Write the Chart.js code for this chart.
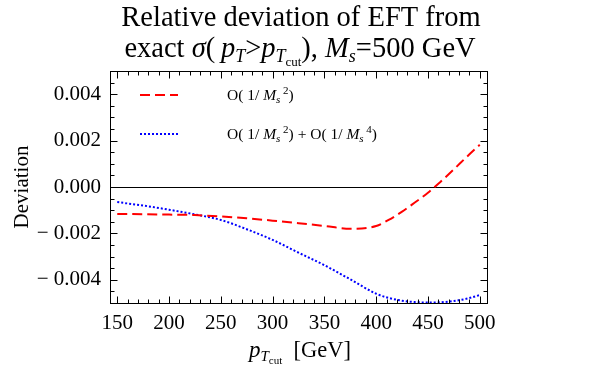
<!DOCTYPE html>
<html>
<head>
<meta charset="utf-8">
<script src="https://cdn.jsdelivr.net/npm/chart.js@4"></script>
<style>
  html, body { margin: 0; padding: 0; background: #ffffff; }
  #wrap { width: 600px; height: 375px; position: relative; }
</style>
</head>
<body>
<div id="wrap"><canvas id="c" width="600" height="375"></canvas></div>
<script>
// ---- data ----
const xValues = [150, 175, 200, 225, 250, 275, 300, 325, 350, 375, 400, 412, 425, 437, 450, 462, 475, 487, 500];
const order2  = [-0.00116, -0.00117, -0.00119, -0.00121, -0.00127, -0.00135, -0.00145, -0.00156, -0.00168, -0.00180, -0.00168, -0.00142, -0.00106, -0.00068, -0.00025, 0.00022, 0.00076, 0.00128, 0.00182];
const order24 = [-0.00065, -0.00080, -0.00098, -0.00118, -0.00142, -0.00182, -0.00228, -0.00283, -0.00337, -0.00398, -0.00460, -0.00478, -0.00490, -0.00496, -0.00498, -0.00497, -0.00491, -0.00482, -0.00466];
const xTicks = [150, 200, 250, 300, 350, 400, 450, 500];
const xTickLabels = ['150', '200', '250', '300', '350', '400', '450', '500'];
const yTicks = [-0.004, -0.002, 0, 0.002, 0.004];
const yTickLabels = ['\u2212 0.004', '\u2212 0.002', '0.000', '0.002', '0.004'];
const seriesNames = ['O(1/Ms^2)', 'O(1/Ms^2)+O(1/Ms^4)'];
const titleLine1 = 'Relative deviation of EFT from';
const yAxisTitle = 'Deviation';

const SERIF = '"Liberation Serif", "DejaVu Serif", serif';

function drawRuns(ctx, runs, x, y, align) {
  let total = 0;
  const widths = runs.map(r => {
    ctx.font = (r.i ? 'italic ' : '') + r.s + 'px ' + SERIF;
    const w = ctx.measureText(r.t).width;
    total += w;
    return w;
  });
  let cx = align === 'center' ? x - total / 2 : x;
  ctx.textBaseline = 'alphabetic';
  ctx.textAlign = 'left';
  runs.forEach((r, k) => {
    ctx.font = (r.i ? 'italic ' : '') + r.s + 'px ' + SERIF;
    ctx.fillText(r.t, cx, y + (r.dy || 0));
    cx += widths[k];
  });
}

const LS = 15.5, LSS = 11;
const legendRuns = [
  [{t: 'O( 1/ ', s: LS}, {t: 'M', s: LS, i: 1}, {t: 's', s: LSS, i: 1, dy: 3}, {t: ' 2', s: LSS, dy: -6}, {t: ')', s: LS}],
  [{t: 'O( 1/ ', s: LS}, {t: 'M', s: LS, i: 1}, {t: 's', s: LSS, i: 1, dy: 3}, {t: ' 2', s: LSS, dy: -6}, {t: ') + O( 1/ ', s: LS},
   {t: 'M', s: LS, i: 1}, {t: 's', s: LSS, i: 1, dy: 3}, {t: ' 4', s: LSS, dy: -6}, {t: ')', s: LS}]
];

const decor = {
  id: 'decor',
  beforeDatasetsDraw(chart) {
    const ctx = chart.ctx, ca = chart.chartArea;
    const ys = chart.scales.y;
    ctx.save();
    ctx.strokeStyle = '#000'; ctx.lineWidth = 1;
    const y0 = Math.round(ys.getPixelForValue(0)) + 0.5;
    ctx.beginPath(); ctx.moveTo(ca.left, y0); ctx.lineTo(ca.right, y0); ctx.stroke();
    ctx.restore();
  },
  afterDraw(chart) {
    const ctx = chart.ctx, ca = chart.chartArea;
    const xs = chart.scales.x, ys = chart.scales.y;
    ctx.save();
    ctx.strokeStyle = '#000'; ctx.lineWidth = 1;
    const L = Math.round(ca.left) + 0.5, R = Math.round(ca.right) + 0.5;
    const T = Math.round(ca.top) + 0.5, B = Math.round(ca.bottom) + 0.5;
    ctx.strokeRect(L, T, R - L, B - T);
    ctx.beginPath();
    for (let v = 150; v <= 500; v += 10) {
      const px = Math.round(xs.getPixelForValue(v)) + 0.5;
      const len = (v % 50 === 0) ? 7 : 4;
      ctx.moveTo(px, B); ctx.lineTo(px, B - len);
      ctx.moveTo(px, T); ctx.lineTo(px, T + len);
    }
    for (let k = -10; k <= 10; k++) {
      const v = k * 0.0005;
      const py = Math.round(ys.getPixelForValue(v)) + 0.5;
      const len = (k % 4 === 0) ? 7 : 4;
      ctx.moveTo(L, py); ctx.lineTo(L + len, py);
      ctx.moveTo(R, py); ctx.lineTo(R - len, py);
    }
    ctx.stroke();

    // title
    ctx.fillStyle = '#000';
    drawRuns(ctx, [{t: titleLine1, s: 28.5}], 301, 26, 'center');
    drawRuns(ctx, [
      {t: 'exact ', s: 28.5}, {t: '\u03c3', s: 28.5, i: 1}, {t: '(\u2009', s: 28.5}, {t: 'p', s: 28.5, i: 1},
      {t: 'T', s: 18, i: 1, dy: 5}, {t: '>', s: 28.5}, {t: 'p', s: 28.5, i: 1}, {t: 'T', s: 18, i: 1, dy: 5},
      {t: 'cut', s: 13, dy: 9}, {t: '), ', s: 28.5}, {t: 'M', s: 28.5, i: 1}, {t: 's', s: 18, i: 1, dy: 5},
      {t: '=500 GeV', s: 28.5}
    ], 300, 57, 'center');

    // x axis title
    drawRuns(ctx, [
      {t: 'p', s: 23, i: 1}, {t: 'T', s: 15, i: 1, dy: 4}, {t: 'cut', s: 11, dy: 7}, {t: '  [GeV]', s: 22.5}
    ], 300, 357, 'center');

    // legend
    chart.data.datasets.forEach((ds, k) => {
      const ly = k === 0 ? 95 : 134;
      ctx.save();
      ctx.strokeStyle = ds.borderColor; ctx.lineWidth = ds.borderWidth;
      ctx.setLineDash(ds.borderDash);
      ctx.beginPath(); ctx.moveTo(140, ly); ctx.lineTo(178, ly); ctx.stroke();
      ctx.restore();
      ctx.fillStyle = '#000';
      drawRuns(ctx, legendRuns[k], 227, ly + 5, 'left');
    });
    ctx.restore();
  }
};

const ctx = document.getElementById('c').getContext('2d');
new Chart(ctx, {
  type: 'line',
  data: {
    datasets: [
      {
        label: seriesNames[0],
        data: xValues.map((x, i) => ({x: x, y: order2[i]})),
        borderColor: '#ff0000', borderWidth: 2, borderDash: [10, 5],
        pointRadius: 0, cubicInterpolationMode: 'monotone', fill: false
      },
      {
        label: seriesNames[1],
        data: xValues.map((x, i) => ({x: x, y: order24[i]})),
        borderColor: '#0000ff', borderWidth: 2, borderDash: [2, 2],
        pointRadius: 0, cubicInterpolationMode: 'monotone', fill: false
      }
    ]
  },
  options: {
    responsive: false,
    animation: false,
    devicePixelRatio: 1,
    layout: { padding: { top: 71, right: 113, left: 0, bottom: 0 } },
    plugins: { legend: { display: false }, title: { display: false }, tooltip: { enabled: false } },
    scales: {
      x: {
        type: 'linear', min: 143, max: 507,
        grid: { display: false, drawTicks: false }, border: { display: false },
        afterBuildTicks: s => { s.ticks = xTicks.map(v => ({value: v})); },
        afterFit: s => { s.height = 72; },
        ticks: {
          padding: 8, color: '#000', maxRotation: 0, autoSkip: false,
          font: { family: SERIF, size: 21 },
          callback: v => xTickLabels[xTicks.indexOf(v)]
        }
      },
      y: {
        type: 'linear', min: -0.005, max: 0.005,
        grid: { display: false, drawTicks: false }, border: { display: false },
        afterBuildTicks: s => { s.ticks = yTicks.map(v => ({value: v})); },
        afterFit: s => { s.width = 110; },
        title: { display: true, text: yAxisTitle, color: '#000', font: { family: SERIF, size: 21 }, padding: { top: 10, bottom: 0 } },
        ticks: {
          padding: 9, color: '#000', autoSkip: false,
          font: { family: SERIF, size: 21 },
          callback: v => { const i = yTicks.findIndex(t => Math.abs(t - v) < 1e-9); return i >= 0 ? yTickLabels[i] : ''; }
        }
      }
    }
  },
  plugins: [decor]
});
</script>
</body>
</html>
